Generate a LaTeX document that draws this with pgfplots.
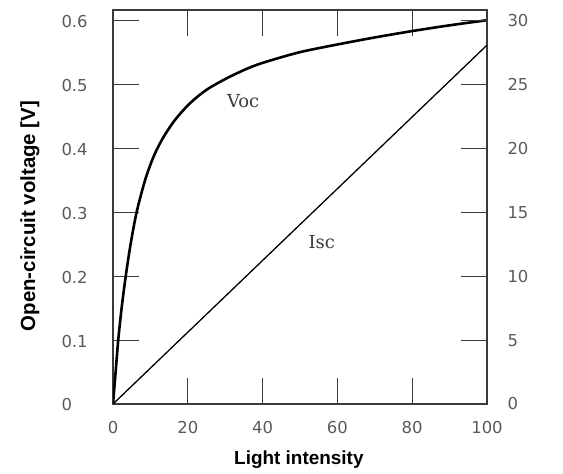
\documentclass[border=0pt]{standalone}
\usepackage{pgfplots}
\pgfplotsset{compat=1.18}
\usepackage{fontspec}
\setmainfont{DejaVu Sans}
\newfontfamily\serifl{DejaVu Serif}
\newfontfamily\labfont{Liberation Sans}
\definecolor{axgray}{HTML}{3A3A3A}
\definecolor{tickgray}{HTML}{5A5A5A}
\pgfplotstableread{
x v
0 0
0.7 0.05
1.4 0.10
2.3 0.15
3.4 0.20
4.7 0.25
6.3 0.30
8.3 0.345
9.7 0.370
11.2 0.392
13.4 0.417
16.6 0.445
20.6 0.471
25 0.492
30.4 0.510
36.2 0.526
41 0.536
50 0.551
60 0.563
70 0.574
80 0.584
90 0.593
100 0.601
}\voc
\pgfplotstableread{
x i
0 0
50 14.05
100 28.1
}\isc
\begin{document}
\begin{tikzpicture}
\path[use as bounding box] (0,0) rectangle (563bp,474bp);
\pgfplotsset{
  common/.style={
    at={(113bp,70bp)}, anchor=south west,
    width=374bp, height=394bp, scale only axis,
    xmin=0, xmax=100,
    tick align=inside,
    major tick length=26bp,
    axis line style={axgray, line width=1.2bp},
    every tick/.style={axgray, line width=1.2bp},
    tick label style={font=\fontsize{16.5}{18}\selectfont, text=tickgray},
    /pgf/number format/assume math mode=true,
  }
}
\begin{axis}[common,
  ymin=0, ymax=0.617,
  xtick={0,20,40,60,80,100},
  ytick={0,0.1,0.2,0.3,0.4,0.5,0.6},
  yticklabels={0,0.1,0.2,0.3,0.4,0.5,0.6},
  xtick pos=both, ytick pos=left,
  yticklabel style={anchor=west, xshift=-55bp, yshift=-1bp},
  xticklabel style={yshift=-14bp},
  xticklabel pos=lower,
  xlabel={Light intensity},
  ylabel={Open-circuit voltage [V]},
  every axis y label/.style={at={(axis description cs:-0.222,0.477)}, rotate=90, anchor=center, font=\labfont\bfseries\fontsize{20.5}{22}\selectfont},
  every axis x label/.style={at={(axis description cs:0.497,-0.142)}, anchor=center, font=\labfont\bfseries\fontsize{19}{21}\selectfont},
]
\addplot[black, line width=2.6bp, smooth] table[x=x, y=v] {\voc};
\node[font=\serifl\fontsize{18}{20}\selectfont, text=axgray] at (axis cs:34.8,0.474) {Voc};
\node[font=\serifl\fontsize{18}{20}\selectfont, text=axgray] at (axis cs:55.8,0.253) {Isc};
\end{axis}
\begin{axis}[common,
  ymin=0, ymax=30.85,
  axis x line=none,
  axis y line*=right,
  ytick={0,5,10,15,20,25,30},
  yticklabel style={xshift=17bp, anchor=west},
]
\addplot[black, line width=1.3bp] table[x=x, y=i] {\isc};
\end{axis}
\end{tikzpicture}
\end{document}
